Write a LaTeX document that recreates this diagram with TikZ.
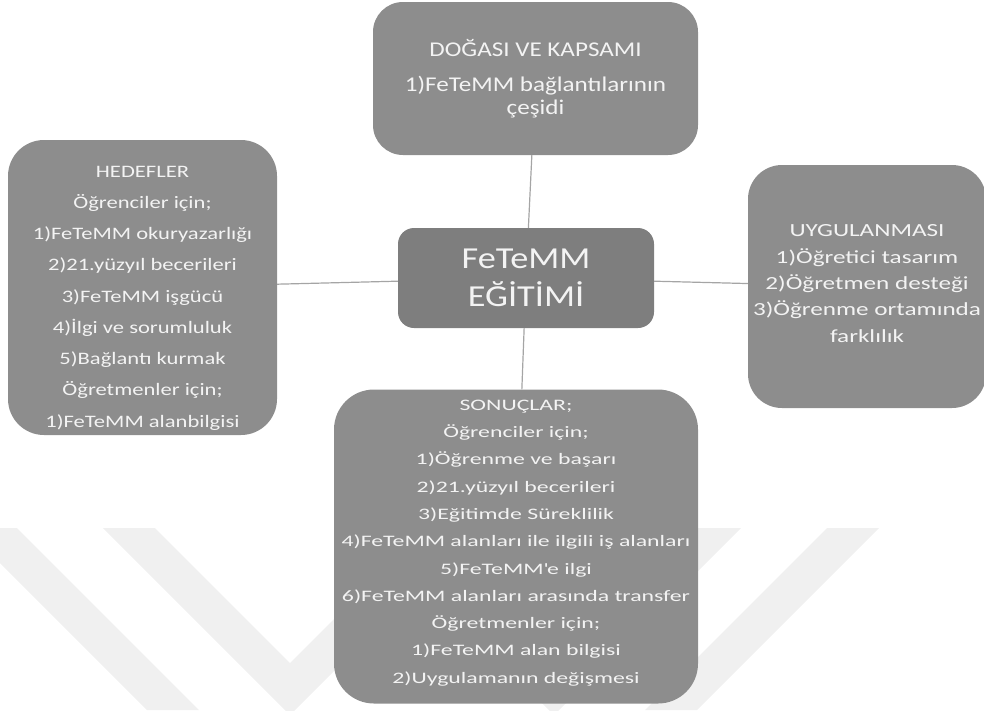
\documentclass[tikz,border=0pt]{standalone}
\usepackage{fontspec}
\setmainfont{Carlito}
\newfontfamily\hubfont[FakeStretch=1.19]{Carlito}
\newfontfamily\naturefont[FakeStretch=1.195]{Carlito}
\newfontfamily\goalsfont[FakeStretch=1.29]{Carlito}
\newfontfamily\practicefont[FakeStretch=1.36]{Carlito}
\newfontfamily\resultsfont[FakeStretch=1.485]{Carlito}
\usetikzlibrary{positioning}
\definecolor{boxgray}{RGB}{141,141,141}
\definecolor{hubgray}{RGB}{126,126,126}
\definecolor{textwhite}{RGB}{243,243,243}
\definecolor{linegray}{RGB}{165,165,165}
\definecolor{markgray}{RGB}{240,240,240}
\tikzstyle{topic} = [rectangle, rounded corners=30pt, fill=boxgray, text=textwhite, align=center, inner sep=0pt]
\tikzstyle{link} = [draw=linegray, line width=1.2pt]

\begin{document}
\begin{tikzpicture}[x=1pt, y=-1pt,
    hub_node/.style={rectangle, rounded corners=16pt, fill=hubgray, text=textwhite, align=center, inner sep=0pt, font=\hubfont\fontsize{30.5}{37.4}\selectfont}]
    \useasboundingbox (0,0) rectangle (984,710);

    % Watermark
    \fill[markgray] (-35,528) -- (17,528) -- (199,710) -- (147,710) -- cycle;
    \fill[markgray] (103,528) -- (155,528) -- (290,663) -- (425,528) -- (477,528) -- (290,715) -- cycle;
    \fill[markgray] (741,528) -- (689,528) -- (554,663) -- (419,528) -- (367,528) -- (554,715) -- cycle;
    \fill[markgray] (827,528) -- (879,528) -- (697,710) -- (645,710) -- cycle;

    % Nodes (topics)
    \node[hub_node, minimum width=256pt, minimum height=100pt] (hub) at (526,278) {FeTeMM\\EĞİTİMİ};
    \node[topic, minimum width=325pt, minimum height=153pt, font=\naturefont\fontsize{21}{23.3}\selectfont] (nature) at (535.5,78.5)
        {DOĞASI VE KAPSAMI\\[11.7pt]1)FeTeMM bağlantılarının\\çeşidi};
    \node[topic, rounded corners=36pt, minimum width=269pt, minimum height=295pt, font=\goalsfont\fontsize{17.5}{31.25}\selectfont] (goals) at (142.5,287.5)
        {\rule{0pt}{32pt}HEDEFLER\\Öğrenciler için;\\1)FeTeMM okuryazarlığı\\2)21.yüzyıl becerileri\\3)FeTeMM işgücü\\4)İlgi ve sorumluluk\\5)Bağlantı kurmak\\Öğretmenler için;\\1)FeTeMM alanbilgisi};
    \node[topic, rounded corners=34pt, minimum width=238pt, minimum height=243pt, font=\practicefont\fontsize{18.5}{26.3}\selectfont] (practice) at (867,286.5)
        {UYGULANMASI\\1)Öğretici tasarım\\2)Öğretmen desteği\\3)Öğrenme ortamında\\farklılık\rule[-6pt]{0pt}{6pt}};
    \node[topic, rounded corners=40pt, minimum width=364pt, minimum height=314pt, font=\resultsfont\fontsize{16}{27.3}\selectfont] (results) at (516,546.5)
        {SONUÇLAR;\\Öğrenciler için;\\1)Öğrenme ve başarı\\2)21.yüzyıl becerileri\\3)Eğitimde Süreklilik\\4)FeTeMM alanları ile ilgili iş alanları\\5)FeTeMM\textquotesingle e ilgi\\6)FeTeMM alanları arasında transfer\\Öğretmenler için;\\1)FeTeMM alan bilgisi\\2)Uygulamanın değişmesi\rule[-10pt]{0pt}{10pt}};

    % Connectors
    \draw[link] (hub) -- (nature);
    \draw[link] (hub) -- (goals);
    \draw[link] (hub) -- (practice);
    \draw[link] (hub) -- (results);
\end{tikzpicture}
\end{document}
